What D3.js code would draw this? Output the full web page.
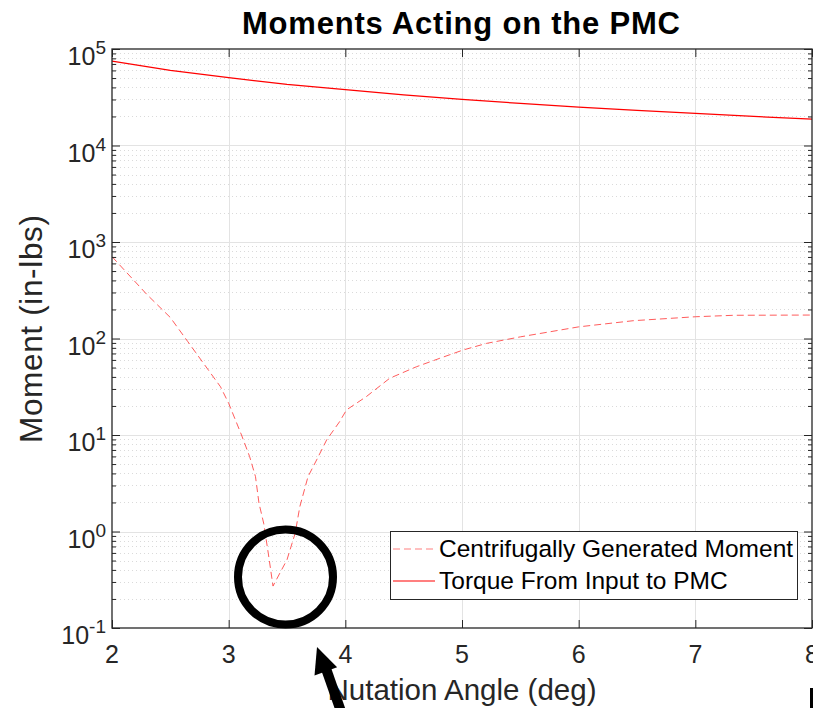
<!DOCTYPE html>
<html lang="en">
<head>
<meta charset="utf-8">
<title>Moments Acting on the PMC</title>
<script src="https://d3js.org/d3.v7.min.js"></script>
<style>
  body { margin: 0; background: white; }
  svg { display: block; background: white; font-family: "Liberation Sans", Arial, sans-serif; }
  .axis line { stroke: #262626; }
  .axis path { display: none; }
</style>
</head>
<body>
<script>
// torque from input to PMC (in-lbs) vs nutation angle (deg)
var torqueAngle = [2, 2.5, 3, 3.5, 4, 4.5, 5, 5.5, 6, 6.5, 7, 7.5, 8];
var torqueMoment = [75000, 60000, 50500, 43000, 38000, 33500, 30000, 27300, 25000, 23100, 21500, 20000, 18800];

// centrifugally generated moment (in-lbs)
var centAngle = [2, 2.3, 2.5, 2.65, 2.93, 3, 3.11, 3.18, 3.23, 3.26, 3.3, 3.34, 3.38,
                 3.5, 3.57, 3.61, 3.68, 3.76, 3.84, 3.95, 4.01, 4.18, 4.38, 4.61, 4.81,
                 5.01, 5.21, 5.5, 6, 6.47, 7, 7.33, 8];
var centMoment = [705, 285, 165, 92.7, 31.6, 21.3, 10, 5.96, 3.7, 1.96, 1.22, 0.59, 0.272,
                  0.51, 0.96, 1.81, 3.7, 5.7, 8.9, 13.7, 18.2, 25, 38.7, 51, 62.4,
                  76, 89, 104, 132, 153, 168, 174, 175];

var xTicks = [2, 3, 4, 5, 6, 7, 8];
var yExps = [-1, 0, 1, 2, 3, 4, 5];
var legendLabels = ["Centrifugally Generated Moment", "Torque From Input to PMC"];

var W = 813, H = 708;
var pL = 112, pT = 49, pR = 812, pB = 628;

var svg = d3.select("body").append("svg").attr("width", W).attr("height", H);

var x = d3.scaleLinear().domain([2, 8]).range([pL, pR]);
var y = d3.scaleLog().domain([0.1, 1e5]).range([pB, pT]);

var majorY = yExps.map(function(e) { return Math.pow(10, e); });
var minorY = [];
yExps.slice(0, -1).forEach(function(e) {
  for (var k = 2; k <= 9; k++) minorY.push(k * Math.pow(10, e));
});

// grid
var grid = svg.append("g").attr("shape-rendering", "crispEdges");
grid.selectAll(".minor").data(minorY).enter().append("line")
  .attr("x1", pL).attr("x2", pR)
  .attr("y1", function(d) { return Math.round(y(d)) + 0.5; })
  .attr("y2", function(d) { return Math.round(y(d)) + 0.5; })
  .attr("stroke", "#dadada").attr("stroke-dasharray", "1,3");
grid.selectAll(".majy").data(majorY.slice(1, -1)).enter().append("line")
  .attr("x1", pL).attr("x2", pR)
  .attr("y1", function(d) { return Math.round(y(d)) + 0.5; })
  .attr("y2", function(d) { return Math.round(y(d)) + 0.5; })
  .attr("stroke", "#e3e3e3").attr("stroke-width", 1.5);
grid.selectAll(".majx").data(xTicks.slice(1, -1)).enter().append("line")
  .attr("y1", pT).attr("y2", pB)
  .attr("x1", function(d) { return Math.round(x(d)) + 0.5; })
  .attr("x2", function(d) { return Math.round(x(d)) + 0.5; })
  .attr("stroke", "#e3e3e3").attr("stroke-width", 1.5);

// lines
svg.append("clipPath").attr("id", "clip").append("rect")
  .attr("x", pL).attr("y", pT).attr("width", pR - pL).attr("height", pB - pT);

var line = d3.line().x(function(d) { return x(d[0]); }).y(function(d) { return y(d[1]); });

svg.append("path")
  .datum(d3.zip(centAngle, centMoment))
  .attr("clip-path", "url(#clip)")
  .attr("d", line)
  .attr("fill", "none").attr("stroke", "#ff3333").attr("stroke-opacity", 0.8)
  .attr("stroke-width", 1).attr("stroke-dasharray", "7,4");

svg.append("path")
  .datum(d3.zip(torqueAngle, torqueMoment))
  .attr("clip-path", "url(#clip)")
  .attr("d", line)
  .attr("fill", "none").attr("stroke", "#ff0000").attr("stroke-width", 1.3);

// axes (ticks inward)
svg.append("g").attr("class", "axis").attr("transform", "translate(0," + pB + ")")
  .call(d3.axisBottom(x).tickValues(xTicks).tickSizeInner(-8).tickSizeOuter(0).tickFormat(""));
svg.append("g").attr("class", "axis").attr("transform", "translate(0," + pT + ")")
  .call(d3.axisTop(x).tickValues(xTicks).tickSizeInner(-8).tickSizeOuter(0).tickFormat(""));
svg.append("g").attr("class", "axis").attr("transform", "translate(" + pL + ",0)")
  .call(d3.axisLeft(y).tickValues(majorY).tickSizeInner(-8).tickSizeOuter(0).tickFormat(""));
svg.append("g").attr("class", "axis").attr("transform", "translate(" + pL + ",0)")
  .call(d3.axisLeft(y).tickValues(minorY).tickSizeInner(-4).tickSizeOuter(0).tickFormat(""));
svg.append("g").attr("class", "axis").attr("transform", "translate(" + pR + ",0)")
  .call(d3.axisRight(y).tickValues(majorY).tickSizeInner(-8).tickSizeOuter(0).tickFormat(""));
svg.append("g").attr("class", "axis").attr("transform", "translate(" + pR + ",0)")
  .call(d3.axisRight(y).tickValues(minorY).tickSizeInner(-4).tickSizeOuter(0).tickFormat(""));

svg.append("rect")
  .attr("x", pL).attr("y", pT).attr("width", pR - pL).attr("height", pB - pT)
  .attr("fill", "none").attr("stroke", "#262626").attr("stroke-width", 1.3);

// tick labels
svg.selectAll(".xlab").data(xTicks).enter().append("text")
  .attr("x", function(d) { return x(d); }).attr("y", 663)
  .attr("text-anchor", "middle").attr("font-size", 25).attr("fill", "#262626")
  .text(function(d) { return d; });

var ylab = svg.selectAll(".ylab").data(yExps).enter().append("text")
  .attr("x", 106).attr("y", function(d) { return y(Math.pow(10, d)) + 16; })
  .attr("text-anchor", "end").attr("font-size", 25).attr("fill", "#262626");
ylab.append("tspan").text("10");
ylab.append("tspan").attr("dy", -11).attr("font-size", 19).text(function(d) { return d; });

// titles
svg.append("text").attr("x", 461).attr("y", 34)
  .attr("text-anchor", "middle").attr("font-size", 31).attr("font-weight", "bold")
  .attr("textLength", 438).attr("lengthAdjust", "spacing")
  .text("Moments Acting on the PMC");
svg.append("text").attr("x", 462).attr("y", 700)
  .attr("text-anchor", "middle").attr("font-size", 29.5).attr("fill", "#262626")
  .text("Nutation Angle (deg)");
svg.append("text").attr("transform", "translate(42,329) rotate(-90)")
  .attr("text-anchor", "middle").attr("font-size", 31.5).attr("fill", "#262626")
  .attr("textLength", 228).attr("lengthAdjust", "spacing")
  .text("Moment (in-lbs)");

// legend
var lg = svg.append("g");
lg.append("rect").attr("x", 390.5).attr("y", 531.5).attr("width", 407).attr("height", 68)
  .attr("fill", "white").attr("stroke", "#262626").attr("stroke-width", 1);
var rows = lg.selectAll(".row").data(legendLabels).enter().append("g")
  .attr("transform", function(d, i) { return "translate(0," + (i * 32) + ")"; });
rows.append("line").attr("x1", 393).attr("x2", 435).attr("y1", 549).attr("y2", 549)
  .attr("stroke", function(d, i) { return i ? "#ff0000" : "#ff8080"; })
  .attr("stroke-width", 1.2)
  .attr("stroke-dasharray", function(d, i) { return i ? null : "7,4"; });
rows.append("text").attr("x", 439).attr("y", 557)
  .attr("font-size", 24.5).attr("fill", "#000")
  .text(function(d) { return d; });

// annotation: circle and arrow
svg.append("circle").attr("cx", 285.5).attr("cy", 577).attr("r", 47.5)
  .attr("fill", "none").attr("stroke", "#000").attr("stroke-width", 8);
svg.append("line").attr("x1", 325.8).attr("y1", 668).attr("x2", 344).attr("y2", 720)
  .attr("stroke", "#000").attr("stroke-width", 10);
svg.append("path").attr("d", "M317,647 L337.1,667.3 L314.5,675.5 Z").attr("fill", "#000");
svg.append("rect").attr("x", 810).attr("y", 688).attr("width", 3).attr("height", 20).attr("fill", "#000");
</script>
</body>
</html>
